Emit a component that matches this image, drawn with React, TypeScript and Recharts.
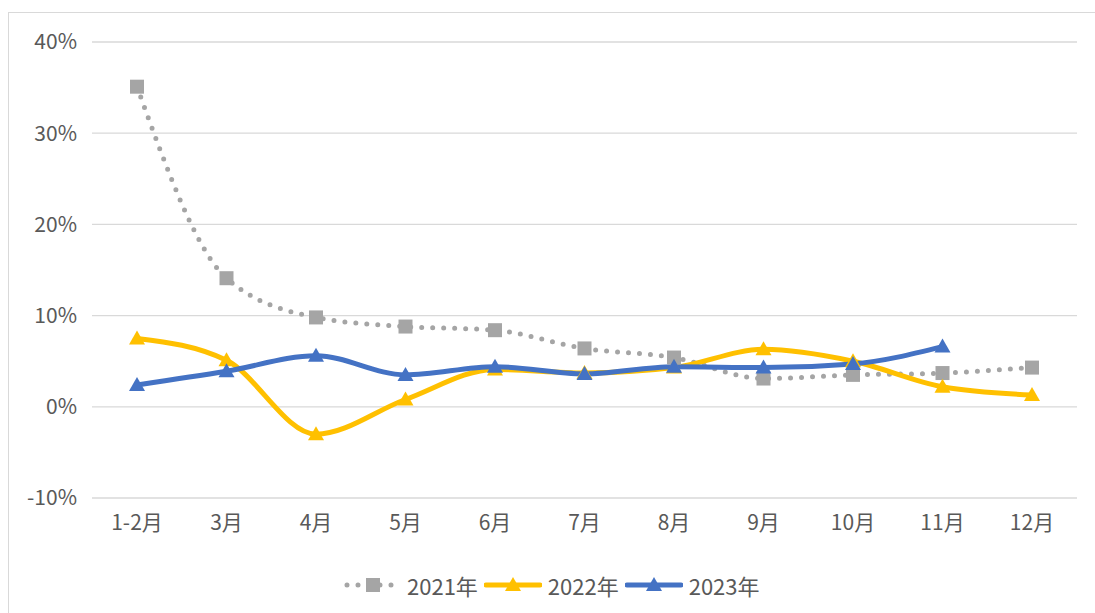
import React from 'react';
import { LineChart, Line, XAxis, YAxis, CartesianGrid, Legend } from 'recharts';

const months = ['1-2月', '3月', '4月', '5月', '6月', '7月', '8月', '9月', '10月', '11月', '12月'];
const s2021 = [35.1, 14.1, 9.8, 8.8, 8.4, 6.4, 5.4, 3.1, 3.5, 3.7, 4.3];
const s2022 = [7.5, 5.1, -3.0, 0.8, 4.1, 3.7, 4.3, 6.3, 5.0, 2.2, 1.3];
const s2023 = [2.4, 3.9, 5.6, 3.5, 4.4, 3.6, 4.4, 4.3, 4.7, 6.6, null];
const yTicks = [-10, 0, 10, 20, 30, 40];
const seriesNames = ['2021年', '2022年', '2023年'];

const GRAY = '#A5A5A5';
const YELLOW = '#FFC000';
const BLUE = '#4472C4';
const TEXT = '#595959';
const FONT = '"Noto Sans CJK SC", "Noto Sans", sans-serif';

const data = months.map((m, i) => ({ month: m, y2021: s2021[i], y2022: s2022[i], y2023: s2023[i] }));

const SquareDot = (props: any) => {
  const { cx, cy, index } = props;
  if (cx == null || cy == null || props.value == null) return <g key={`s${index}`} />;
  return <rect key={`s${index}`} x={cx - 7} y={cy - 7} width={14} height={14} fill={GRAY} />;
};

const makeTriangle = (color: string) => (props: any) => {
  const { cx, cy, index } = props;
  if (cx == null || cy == null || props.value == null) return <g key={`t${index}`} />;
  const pts = `${cx},${cy - 8} ${cx - 8},${cy + 6} ${cx + 8},${cy + 6}`;
  return <polygon key={`t${index}`} points={pts} fill={color} />;
};

const renderLegend = () => {
  const icons = [
    <svg width={58} height={20} key="i0">
      <line x1={4} y1={10} x2={56} y2={10} stroke={GRAY} strokeWidth={5} strokeDasharray="0 11" strokeLinecap="round" />
      <rect x={23} y={3} width={14} height={14} fill={GRAY} />
    </svg>,
    <svg width={58} height={20} key="i1">
      <line x1={2} y1={10} x2={56} y2={10} stroke={YELLOW} strokeWidth={5} strokeLinecap="round" />
      <polygon points="29,2 21,16 37,16" fill={YELLOW} />
    </svg>,
    <svg width={58} height={20} key="i2">
      <line x1={2} y1={10} x2={56} y2={10} stroke={BLUE} strokeWidth={5} strokeLinecap="round" />
      <polygon points="29,2 21,16 37,16" fill={BLUE} />
    </svg>,
  ];
  return (
    <div style={{ display: 'flex', alignItems: 'center', fontFamily: FONT, fontSize: 22, color: TEXT }}>
      {seriesNames.map((n, i) => (
        <div key={n} style={{ display: 'flex', alignItems: 'center', marginRight: 6 }}>
          {icons[i]}
          <span style={{ marginLeft: 6 }}>{n}</span>
        </div>
      ))}
    </div>
  );
};

export default function App() {
  return (
    <div style={{ position: 'fixed', left: 0, top: 0, width: 1095, height: 613, background: '#fff', overflow: 'hidden' }}>
      <div style={{ position: 'absolute', left: 8, top: 12, width: 1100, height: 620, border: '1px solid #d9d9d9' }} />
      <div style={{ position: 'absolute', left: 0, top: 0 }}>
        <LineChart width={1095} height={613} data={data} margin={{ top: 42, right: 18, bottom: 49, left: 0 }}>
          <CartesianGrid vertical={false} stroke="#d9d9d9" strokeWidth={1.3} />
          <XAxis
            dataKey="month"
            axisLine={false}
            tickLine={false}
            tickMargin={11}
            height={40}
            padding={{ left: 45, right: 45 }}
            tick={{ fill: TEXT, fontSize: 21, fontFamily: FONT }}
            interval={0}
          />
          <YAxis
            domain={[-10, 40]}
            ticks={yTicks}
            axisLine={false}
            tickLine={false}
            tickMargin={9}
            width={92}
            tickFormatter={(v: number) => `${v}%`}
            tick={{ fill: TEXT, fontSize: 21, fontFamily: FONT }}
          />
          <Legend content={renderLegend} wrapperStyle={{ position: 'absolute', left: 343, top: 569, width: 480, height: 26 }} />
          <Line
            type="monotone"
            dataKey="y2021"
            name={seriesNames[0]}
            stroke={GRAY}
            strokeWidth={5}
            strokeDasharray="0 11"
            strokeLinecap="round"
            dot={SquareDot}
            activeDot={false}
            isAnimationActive={false}
          />
          <Line
            type="monotone"
            dataKey="y2022"
            name={seriesNames[1]}
            stroke={YELLOW}
            strokeWidth={5}
            dot={makeTriangle(YELLOW)}
            activeDot={false}
            isAnimationActive={false}
          />
          <Line
            type="monotone"
            dataKey="y2023"
            name={seriesNames[2]}
            stroke={BLUE}
            strokeWidth={5}
            dot={makeTriangle(BLUE)}
            activeDot={false}
            isAnimationActive={false}
          />
        </LineChart>
      </div>
    </div>
  );
}
